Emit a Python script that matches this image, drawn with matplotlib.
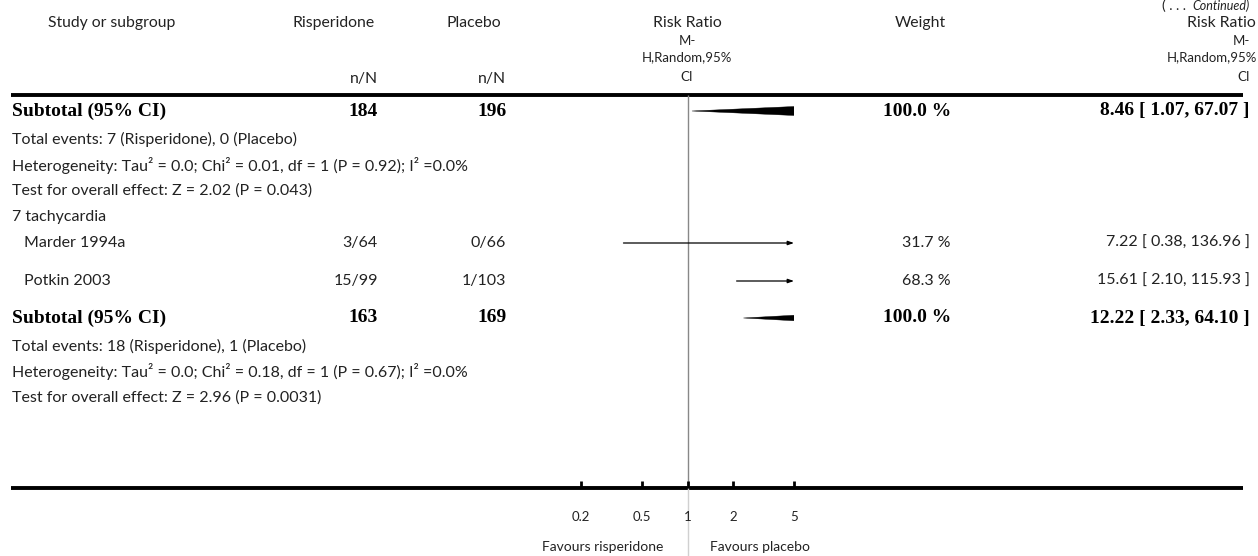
import numpy as np
import matplotlib
matplotlib.use("Agg")
import matplotlib.pyplot as plt
from matplotlib.patches import Polygon

plt.rcParams['font.family'] = ['Lato', 'DejaVu Sans']

# data
study_names = ["Marder 1994a", "Potkin 2003"]
risp_counts = ["3/64", "15/99"]
plac_counts = ["0/66", "1/103"]
study_rr = [7.22, 15.61]
study_lo = [0.38, 2.10]
study_hi = [136.96, 115.93]
study_weight = [31.7, 68.3]

sub_n_risp = [184, 163]
sub_n_plac = [196, 169]
sub_rr = [8.46, 12.22]
sub_lo = [1.07, 2.33]
sub_hi = [67.07, 64.10]

sub1_notes = ["Total events: 7 (Risperidone), 0 (Placebo)",
              "Heterogeneity: Tau² = 0.0; Chi² = 0.01, df = 1 (P = 0.92); I² =0.0%",
              "Test for overall effect: Z = 2.02 (P = 0.043)"]
subgroup_title = "7 tachycardia"
sub2_notes = ["Total events: 18 (Risperidone), 1 (Placebo)",
              "Heterogeneity: Tau² = 0.0; Chi² = 0.18, df = 1 (P = 0.67); I² =0.0%",
              "Test for overall effect: Z = 2.96 (P = 0.0031)"]

tick_vals = [0.2, 0.5, 1, 2, 5]
tick_labels = ["0.2", "0.5", "1", "2", "5"]

W, H = 1258, 556
fig = plt.figure(figsize=(W / 100, H / 100), dpi=100)

# page axes in pixel units
ax = fig.add_axes([0, 0, 1, 1])
ax.set_xlim(0, W)
ax.set_ylim(H, 0)
ax.axis('off')

# forest axes: log scale, 0.2 .. 5
x0, x1 = 581, 794
fax = fig.add_axes([x0 / W, 0, (x1 - x0) / W, 1])
fax.set_xscale('log')
fax.set_xlim(0.2, 5)
fax.set_ylim(H, 0)
fax.axis('off')
fax.patch.set_alpha(0)

tc = '#222222'
fs = 11.5
hfs = 11.3
sfs = 9.5
bfs = 14
serif = ['Liberation Serif', 'DejaVu Serif']

# header
ax.text(48, 23, "Study or subgroup", fontsize=hfs, color=tc, va='center')
ax.text(334, 23, "Risperidone", fontsize=hfs, color=tc, va='center', ha='center')
ax.text(474, 23, "Placebo", fontsize=hfs, color=tc, va='center', ha='center')
ax.text(378, 79, "n/N", fontsize=hfs, color=tc, va='center', ha='right')
ax.text(506, 79, "n/N", fontsize=hfs, color=tc, va='center', ha='right')
for yy, s in zip([23, 41, 57, 77], ["Risk Ratio", "M-", "H,Random,95%", "CI"]):
    ax.text(687, yy, s, fontsize=hfs if yy == 23 else sfs, color=tc, va='center', ha='center')
ax.text(920, 23, "Weight", fontsize=hfs, color=tc, va='center', ha='center')
for yy, s, xr in zip([23, 41, 57, 77], ["Risk Ratio", "M-", "H,Random,95%", "CI"],
                     [1256, 1250, 1257, 1250]):
    ax.text(xr, yy, s, fontsize=hfs if yy == 23 else sfs, color=tc, va='center', ha='right')
ax.text(1186, 6, "( . . .", fontsize=10, color=tc, va='center', ha='right')
ax.text(1250, 6, "Continued)", fontsize=9, color=tc, va='center', ha='right', style='italic')

# rules
ax.plot([11, 1243], [95, 95], color='black', lw=2.8, solid_capstyle='butt')
ax.plot([11, 1243], [488, 488], color='black', lw=2.8, solid_capstyle='butt')

# reference line at 1
fax.vlines(1, 95, 488, color='#888888', lw=1)
fax.vlines(1, 488, H, color='#d0d0d0', lw=1)

# row positions
sub_rows = [111, 318]
note_rows = [[139, 165, 191], [346, 372, 398]]
title_row = 217
study_rows = [243, 281]


def draw_ci(lo, hi, y):
    end = min(hi, 5)
    start = max(lo, 0.2)
    if hi > 5:
        fax.annotate("", xy=(end, y), xytext=(start, y),
                     arrowprops=dict(arrowstyle='-|>,head_length=0.35,head_width=0.12',
                                     color='black', lw=0.9, shrinkA=0, shrinkB=0))
    else:
        fax.plot([start, end], [y, y], color='black', lw=0.9)


def draw_diamond(est, lo, hi, y, h=6):
    pts = [(lo, y), (est, y - h), (hi, y), (est, y + h)]
    poly = Polygon(pts, closed=True, facecolor='black', edgecolor='black', lw=0.3)
    fax.add_patch(poly)


for k in range(2):
    y = sub_rows[k]
    ax.text(12, y, "Subtotal (95% CI)", fontsize=bfs, weight='bold', family=serif,
            color='black', va='center')
    ax.text(378, y, str(sub_n_risp[k]), fontsize=bfs, weight='bold', family=serif,
            color='black', va='center', ha='right')
    ax.text(507, y, str(sub_n_plac[k]), fontsize=bfs, weight='bold', family=serif,
            color='black', va='center', ha='right')
    ax.text(951, y, "100.0 %", fontsize=bfs, weight='bold', family=serif,
            color='black', va='center', ha='right')
    ax.text(1250, y, f"{sub_rr[k]:.2f} [ {sub_lo[k]:.2f}, {sub_hi[k]:.2f} ]", fontsize=bfs,
            weight='bold', family=serif, color='black', va='center', ha='right')
    draw_diamond(sub_rr[k], sub_lo[k], sub_hi[k], y)
    notes = sub1_notes if k == 0 else sub2_notes
    for yy, s in zip(note_rows[k], notes):
        ax.text(12, yy, s, fontsize=fs, color=tc, va='center')

ax.text(12, title_row, subgroup_title, fontsize=fs, color=tc, va='center')

for i, name in enumerate(study_names):
    y = study_rows[i]
    ax.text(24, y, name, fontsize=fs, color=tc, va='center')
    ax.text(378, y, risp_counts[i], fontsize=fs, color=tc, va='center', ha='right')
    ax.text(506, y, plac_counts[i], fontsize=fs, color=tc, va='center', ha='right')
    ax.text(951, y, f"{study_weight[i]:.1f} %", fontsize=fs, color=tc, va='center', ha='right')
    ax.text(1250, y, f"{study_rr[i]:.2f} [ {study_lo[i]:.2f}, {study_hi[i]:.2f} ]",
            fontsize=fs, color=tc, va='center', ha='right')
    draw_ci(study_lo[i], study_hi[i], y)

# bottom scale
fax.vlines(tick_vals, 481, 488, color='black', lw=2, clip_on=False)
for v, lab in zip(tick_vals, tick_labels):
    fax.text(v, 517, lab, fontsize=sfs, color=tc, va='center', ha='center', clip_on=False)
fax.annotate("Favours risperidone", xy=(1, 547), xytext=(-24, 0), textcoords='offset pixels',
             fontsize=10, color=tc, va='center', ha='right', annotation_clip=False)
fax.annotate("Favours placebo", xy=(1, 547), xytext=(23, 0), textcoords='offset pixels',
             fontsize=10, color=tc, va='center', ha='left', annotation_clip=False)

fig.savefig("out.png", dpi=100)
